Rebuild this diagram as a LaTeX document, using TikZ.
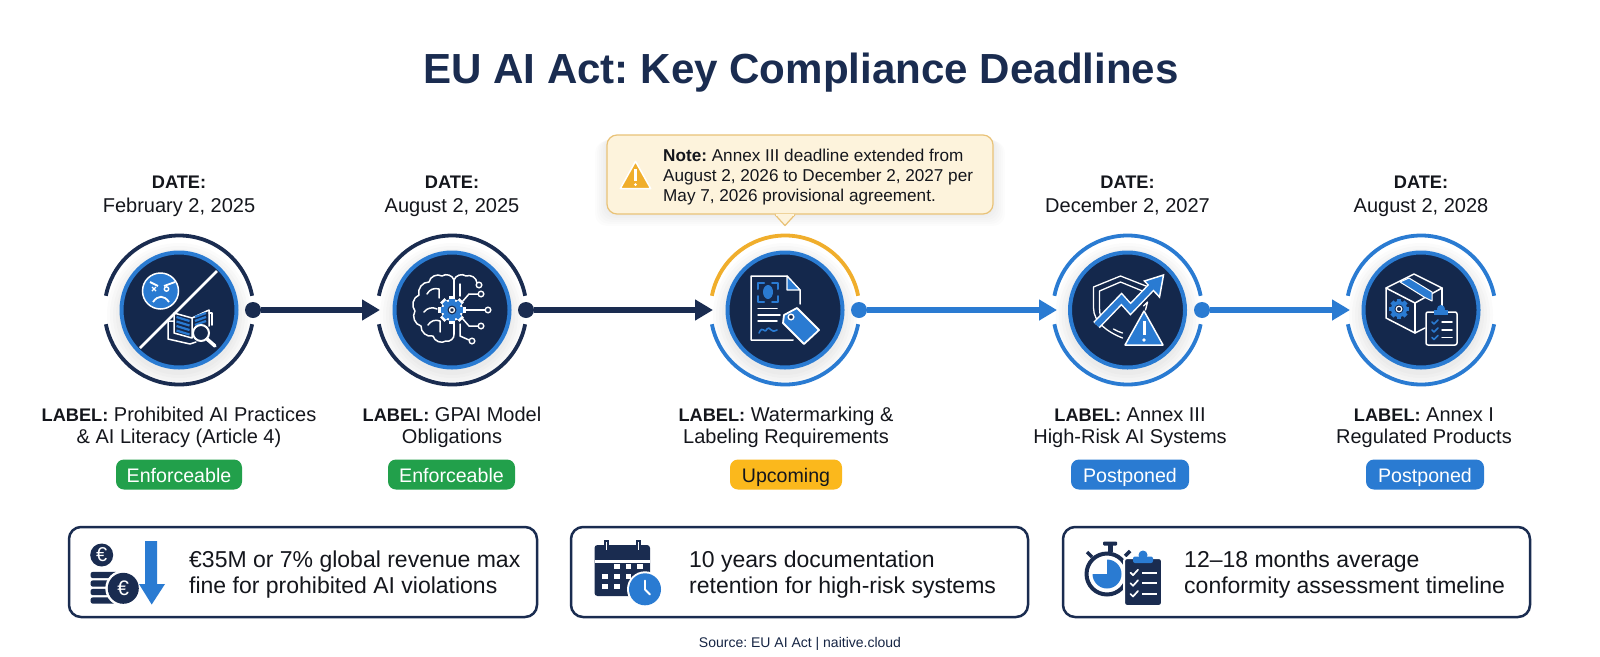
\documentclass[tikz,border=0pt]{standalone}
\usepackage{fontspec}
\setmainfont{Liberation Sans}
\frenchspacing
\usetikzlibrary{arrows.meta,positioning}
\definecolor{navy}{HTML}{1A2C50}
\definecolor{hubfill}{HTML}{14284C}
\definecolor{azure}{HTML}{2A7BD2}
\definecolor{amber}{HTML}{F0AE2C}
\definecolor{leaf}{HTML}{22A04B}
\definecolor{pillamber}{HTML}{FBB81C}
\definecolor{notefill}{HTML}{FDF3DC}
\definecolor{noteline}{HTML}{E9C277}
\definecolor{ink}{HTML}{14161C}
\newcommand{\lead}[1]{{\bfseries\fontsize{18.2}{22}\selectfont #1}}
\tikzset{
  hub/.style={circle,fill=hubfill,draw=azure,line width=4pt,minimum size=115pt,inner sep=0pt},
  dot/.style={circle,fill=#1,minimum size=16pt,inner sep=0pt},
  link/.style={draw=#1,line width=6.5pt,-{Triangle[length=18pt,width=20pt,fill=#1]}},
  wire/.style={draw=white,line width=1.5pt,line join=round,line cap=round},
  bluewire/.style={draw=azure,line width=2pt,line join=round,line cap=round},
  datetext/.style={anchor=base,align=center,text=ink,font=\fontsize{20}{24}\selectfont},
  labeltext/.style={anchor=base,align=center,text=ink,font=\fontsize{20}{22}\selectfont},
  pill/.style={rounded corners=8pt,fill=#1,minimum height=30pt,inner sep=0pt,text height=18pt,text depth=2pt,text=white,font=\fontsize{19.6}{24}\selectfont},
  card/.style={draw=navy,line width=2.5pt,rounded corners=12pt,minimum height=90pt,inner sep=0pt},
  cardtext/.style={anchor=base west,align=left,text=ink,font=\fontsize{23}{26}\selectfont},
  euro/.style={text=white,inner sep=0pt,font=\fontsize{#1}{#1}\selectfont},
  halfup/.pic={\draw[pic actions,line width=3.8pt] (-11:74.5) arc (-11:-169:74.5);},
  halfdown/.pic={\draw[pic actions,line width=3.8pt] (11:74.5) arc (11:169:74.5);},
  soft/.pic={\foreach \r in {72,69,...,60} \fill[black,opacity=.014] (0,5) circle (\r);},
  cog/.pic={
    \foreach \a in {0,45,...,315} \fill[pic actions,rotate=\a] (-2.4,-10.5) rectangle (2.4,-7);
    \fill[pic actions] (0,0) circle (8.5);
  },
  warn/.pic={
    \fill[pic actions,draw=white,line width=1.5pt,line join=round] (0,-17) -- (19,17) -- (-19,17) -- cycle;
    \draw[white,line width=3pt] (0,-7) -- (0,7);
    \fill[white] (0,12) circle (1.9);
  },
  angry/.pic={
    \draw[white,line width=2.5pt] (38,-39) -- (-39,38);
    \fill[azure,draw=white,line width=1.5pt] (-18.5,-19) circle (18);
    \draw[white,line width=1.8pt] (-29,-28) -- (-21,-24) (-4,-28) -- (-15,-24);
    \draw[white,line width=1.4pt] (-27,-23) -- (-23,-19) (-27,-19) -- (-23,-23);
    \draw[white,line width=1.4pt] (-12.5,-21) circle (2.2);
    \draw[white,line width=1.8pt] (-26,-8) .. controls (-21,-15) and (-15,-15) .. (-10,-8);
    \draw[wire] (13,8) -- (-5,3) -- (-5,23) -- (13,28) -- (13,8) -- (30,0) -- (30,16);
    \draw[wire] (-5,11) -- (-11,11) -- (-11,29) -- (11,34) -- (17,32);
    \draw[wire] (30,3) -- (33,3) -- (33,15);
    \foreach \y in {7,11.5,16,20.5} \draw[bluewire,line width=2.2pt,line cap=butt] (-2.5,\y) -- (10.5,\y+4);
    \foreach \y in {7,11,15} \draw[bluewire,line width=2.2pt,line cap=butt] (16,\y) -- (27,\y-4);
    \draw[white,line width=2pt,fill=hubfill] (22,23) circle (8);
    \draw[white,line width=3.5pt,line cap=round] (28,29) -- (36,36);
  },
  brain/.pic={
    \draw[wire] (2,24) to[bend left=60] (-6,31) to[bend left=55] (-19,26) to[bend left=55] (-31,16)
      to[bend left=55] (-37,1) to[bend left=55] (-33,-15) to[bend left=55] (-23,-28)
      to[bend left=55] (-10,-34) to[bend left=55] (2,-30);
    \draw[wire] (2,-30) to[bend left=55] (14,-34) to[bend left=55] (25,-27);
    \draw[wire] (2,-30) -- (2,-12) (2,12) -- (2,24);
    \draw[wire] (-25,-16) to[bend left=40] (-13,-21) (-13,-21) -- (-13,-12);
    \draw[wire] (-28,2) to[bend left=40] (-15,-1);
    \draw[wire] (-24,15) to[bend left=40] (-12,11) (-12,11) -- (-12,22);
    \draw[wire] (10,-8) -- (17,-16) -- (26,-16);
    \draw[wire] (12,0) -- (33,0);
    \draw[wire] (10,8) -- (17,16) -- (26,16);
    \draw[wire] (8,-26) -- (8,-14);
    \draw[wire] (8,14) -- (8,26) -- (17,30);
    \foreach \p in {(29,-16),(36,0),(29,16),(20,31),(27,-25)} \draw[white,line width=1.4pt,fill=hubfill] \p circle (2.8);
    \pic[scale=1.3,fill=white] {cog};
    \pic[scale=1.05,fill=azure] {cog};
    \fill[hubfill] (0,0) circle (4.5);
    \draw[white,line width=1.3pt] (0,0) circle (2.5);
  },
  filing/.pic={
    \draw[wire] (15,-6) -- (15,-20) -- (2,-34) -- (-34,-34) -- (-34,30) -- (8,30);
    \draw[wire,fill=azure,line width=1.2pt] (2,-34) -- (15,-20) -- (2,-20) -- cycle;
    \draw[bluewire] (-27,-21) -- (-27,-27) -- (-21,-27) (-13,-27) -- (-7,-27) -- (-7,-21)
      (-27,-14) -- (-27,-8) -- (-21,-8) (-13,-8) -- (-7,-8) -- (-7,-14);
    \fill[azure] (-17,-18) ellipse (5 and 7);
    \draw[wire] (-27,-1.5) -- (-8,-1.5) (-27,5) -- (-5,5) (-27,11) -- (-8,11);
    \draw[bluewire,line width=1.6pt] (-26,23) .. controls (-22,14) and (-21,25) .. (-18,19)
      .. controls (-15,15) and (-15,24) .. (-8,20);
    \draw[wire,fill=azure,line width=1.8pt] (-1,5) -- (12,-2) -- (34,20) -- (19,34) -- (-2,13) -- cycle;
    \draw[white,line width=1.4pt,fill=hubfill] (6,7) circle (2.8);
  },
  shield/.pic={
    \draw[wire,line width=1.3pt] (-34,-23) -- (-7,-34) -- (21,-23) (21,-23) -- (21,-16)
      (-34,-23) -- (-34,-2) .. controls (-34,12) and (-20,22) .. (-5,28);
    \draw[wire,line width=1.3pt] (-28,-19) -- (-7,-28) -- (15,-19)
      (-28,-19) -- (-28,-2) .. controls (-28,5) and (-26,9) .. (-24,12)
      (-14,19) .. controls (-11,21) and (-8,22) .. (-5,23) (16,-4) -- (20,-8) (20,-8) -- (18,0);
    \draw[white,line width=9pt,line join=miter] (-31,15) -- (-6,-11) -- (3,-1) -- (24,-23);
    \draw[white,line width=1.5pt,fill=azure,line join=miter] (36,-35) -- (32,-13) -- (17,-29) -- cycle;
    \draw[azure,line width=6pt,line join=miter] (-31,15) -- (-6,-11) -- (3,-1) -- (25,-24);
    \fill[azure] (34,-33) -- (31,-16) -- (19,-28) -- cycle;
    \pic[fill=azure] at (16.5,18) {warn};
  },
  parcel/.pic={
    \draw[wire,fill=hubfill] (-7,-36) -- (21,-22) -- (-6,-7) -- (-35,-22) -- cycle;
    \draw[wire] (-35,-22) -- (-35,8) -- (-6,23) -- (4,18);
    \draw[wire] (-6,-7) -- (-6,23);
    \draw[wire] (21,-22) -- (21,-4);
    \draw[wire,fill=azure,line width=1pt] (-21,-28) -- (-12,-32) -- (11,-18) -- (11,-9) -- (3,-13) -- cycle;
    \pic[scale=.95,fill=azure] at (-22,-1) {cog};
    \fill[hubfill] (-22,-1) circle (4.5);
    \draw[white,line width=1.2pt] (-22,-1) circle (2.8);
    \draw[wire,fill=hubfill,rounded corners=2pt] (5,2) rectangle (36,35);
    \fill[azure] (13,5) rectangle (27,-0.5);
    \fill[azure] (20,-1) circle (4);
    \foreach \y in {12,20,27.5} {
      \draw[bluewire,line width=1.6pt] (11,\y) -- (13,\y+2) -- (17,\y-2);
      \draw[wire] (21,\y) -- (31,\y);
    }
  },
}
\begin{document}
\begin{tikzpicture}[x=1pt,y=-1pt]
\useasboundingbox (0,0) rectangle (1600,656);
\fill[white] (0,0) rectangle (1600,656);

\node[anchor=base,text=navy,font=\bfseries\fontsize{42.1}{48}\selectfont] (title) at (801,83) {EU AI Act: Key Compliance Deadlines};

\pic at (179,310) {soft};
\pic at (452,310) {soft};
\pic at (785,310) {soft};
\pic at (1127.5,310) {soft};
\pic at (1421,310) {soft};

\pic[draw=navy] at (179,310) {halfup};
\pic[draw=navy] at (179,310) {halfdown};
\pic[draw=navy] at (452,310) {halfup};
\pic[draw=navy] at (452,310) {halfdown};
\pic[draw=amber] at (785,310) {halfup};
\pic[draw=azure] at (785,310) {halfdown};
\pic[draw=azure] at (1127.5,310) {halfup};
\pic[draw=azure] at (1127.5,310) {halfdown};
\pic[draw=azure] at (1421,310) {halfup};
\pic[draw=azure] at (1421,310) {halfdown};

\node[hub] (feb) at (179,310) {};
\node[hub] (aug) at (452,310) {};
\node[hub] (mark) at (785,310) {};
\node[hub] (dec) at (1127.5,310) {};
\node[hub] (reg) at (1421,310) {};

\pic at (feb.center) {angry};
\pic at (aug.center) {brain};
\pic at (mark.center) {filing};
\pic at (dec.center) {shield};
\pic at (reg.center) {parcel};

\node[dot=navy] (febout) at (253,310) {};
\node[dot=navy] (augout) at (526,310) {};
\node[dot=azure] (markout) at (859,310) {};
\node[dot=azure] (decout) at (1202,310) {};
\coordinate (augin) at (380,310);
\coordinate (markin) at (713,310);
\coordinate (decin) at (1057,310);
\coordinate (regin) at (1350,310);
\draw[link=navy] (febout) -- (augin);
\draw[link=navy] (augout) -- (markin);
\draw[link=azure] (markout) -- (decin);
\draw[link=azure] (decout) -- (regin);

\node[datetext] (dfeb) at (179,212) {\lead{DATE:}\\February 2, 2025};
\node[datetext] (daug) at (452,212) {\lead{DATE:}\\August 2, 2025};
\node[datetext] (ddec) at (1127.5,212) {\lead{DATE:}\\December 2, 2027};
\node[datetext] (dreg) at (1421,212) {\lead{DATE:}\\August 2, 2028};

\node[labeltext] (lfeb) at (179,443) {\lead{LABEL:} Prohibited AI Practices\\\& AI Literacy (Article 4)};
\node[labeltext] (laug) at (452,443) {\lead{LABEL:} GPAI Model\\Obligations};
\node[labeltext] (lmark) at (786,443) {\lead{LABEL:} Watermarking \&\\Labeling Requirements};
\node[labeltext] (ldec) at (1130,443) {\lead{LABEL:} Annex III\\High-Risk AI Systems};
\node[labeltext] (lreg) at (1424,443) {\lead{LABEL:} Annex I\\Regulated Products};

\node[pill=leaf,minimum width=126pt] (pfeb) at (179,474.5) {Enforceable};
\node[pill=leaf,minimum width=127pt] (paug) at (451.5,474.5) {Enforceable};
\node[pill=pillamber,minimum width=112pt,text=ink] (pmark) at (786,474.5) {Upcoming};
\node[pill=azure,minimum width=118pt] (pdec) at (1130,474.5) {Postponed};
\node[pill=azure,minimum width=118pt] (preg) at (1425,474.5) {Postponed};

\foreach \g in {12,10,...,2}
  \fill[black,opacity=.012,rounded corners=12pt] (607-\g,135+\g/2) rectangle (993+\g,214+\g);
\node[draw=noteline,fill=notefill,line width=1.2pt,rounded corners=10pt,minimum width=386pt,minimum height=79pt,inner sep=0pt] (note) at (800,174.5) {};
\draw[draw=noteline,fill=notefill,line width=1.2pt,line join=round] ([xshift=-25]note.south) -- ([xshift=-15,yshift=-11]note.south) -- ([xshift=-5]note.south);
\fill[notefill] ([xshift=-24,yshift=1]note.south) rectangle ([xshift=-6,yshift=-1]note.south);
\pic[fill=amber,scale=.8] at (635.5,175) {warn};
\node[anchor=base west,align=left,text=ink,inner sep=0pt,font=\fontsize{17.15}{20}\selectfont] (notetext) at (663,201) {\textbf{Note:} Annex III deadline extended from\\August 2, 2026 to December 2, 2027 per\\May 7, 2026 provisional agreement.};

\node[card,minimum width=468pt] (fine) at (303,572) {};
\node[card,minimum width=457pt] (docs) at (799.5,572) {};
\node[card,minimum width=467pt] (time) at (1296.5,572) {};

\node[cardtext,inner sep=0pt] (tfine) at (189,593) {€35M or 7\% global revenue max\\fine for prohibited AI violations};
\node[cardtext,inner sep=0pt] (tdocs) at (689,593) {10 years documentation\\retention for high-risk systems};
\node[cardtext,inner sep=0pt] (ttime) at (1184,593) {12–18 months average\\conformity assessment timeline};

\fill[navy] (101.7,555) circle (11.5);
\node[euro=20] (e1) at (101.7,555) {€};
\foreach \y in {575,583.5,592,600.5} \fill[navy,rounded corners=2.5pt] (90.5,\y-3.2) rectangle (118,\y+3.2);
\fill[white] (123.3,588.3) circle (18);
\fill[navy] (123.3,588.3) circle (15.5);
\node[euro=21] (e2) at (123.3,588.3) {€};
\fill[azure] (145,541) -- (157,541) -- (157,584) -- (165,584) -- (151.7,604.5) -- (139,584) -- (145,584) -- cycle;

\fill[navy,rounded corners=3pt] (594.5,545) rectangle (650,596);
\fill[white] (594.5,559.5) rectangle (650,562.5);
\foreach \x in {606.7,638.3} \draw[navy,line width=2pt,fill=white] (\x-1.5,541) rectangle (\x+1.5,551);
\foreach \x/\y in {616.7/566.7,628.3/566.7,640/566.7,605/576.7,616.7/576.7,628.3/576.7,605/586.7,616.7/586.7}
  \fill[white] (\x-2.8,\y-2.6) rectangle (\x+2.8,\y+2.6);
\fill[white] (645,589.3) circle (18);
\fill[azure] (645,589.3) circle (16);
\draw[white,line width=1.8pt,line cap=round,line join=round] (645,580.5) -- (645,589.5) -- (650,594.5);

\draw[navy,line width=4pt] (1107,574) circle (20.5);
\fill[azure] (1107,574) -- (1107,559.5) arc (-90:180:14.5) -- cycle;
\fill[navy,rounded corners=1pt] (1103,541.5) rectangle (1117,545.5);
\fill[navy] (1107.5,545) rectangle (1112.5,552);
\draw[navy,line width=3.5pt] (1087,552) -- (1092,557) (1130,551) -- (1125,556);
\draw[white,line width=2pt,fill=navy,rounded corners=3pt] (1124,558) rectangle (1162,606);
\fill[azure,rounded corners=2pt] (1133,556.5) rectangle (1153,563);
\fill[azure] (1143,555) circle (4.5);
\foreach \y in {572.7,583.3,594} {
  \draw[white,line width=1.7pt,line cap=round,line join=round] (1130.5,\y) -- (1133,\y+2.5) -- (1138,\y-3);
  \draw[white,line width=1.7pt] (1142,\y) -- (1156.5,\y);
}

\node[anchor=base,text=navy!85!black,font=\fontsize{14}{16}\selectfont] (source) at (800,647) {Source: EU AI Act | naitive.cloud};
\end{tikzpicture}
\end{document}
